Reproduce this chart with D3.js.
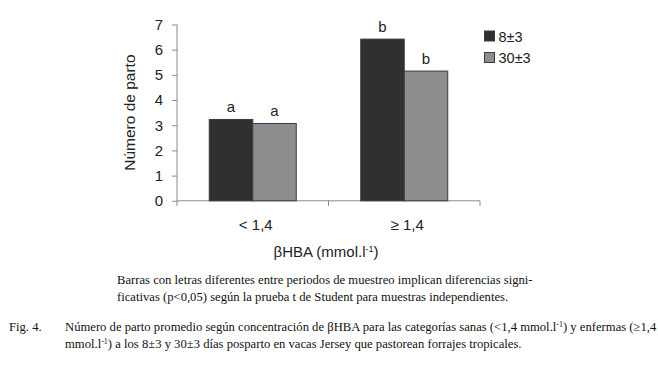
<!DOCTYPE html>
<html><head><meta charset="utf-8">
<script src="https://cdn.jsdelivr.net/npm/d3@7"></script>
<style>
body{margin:0;background:#fff;}
svg{display:block;}
</style></head>
<body>
<svg id="c" width="658" height="365"></svg>
<script>
const categories = ["< 1,4", "\u2265 1,4"];
const seriesNames = ["8\u00b13", "30\u00b13"];
const values8 = [3.23, 6.42];
const values30 = [3.07, 5.15];
const letters8 = ["a", "b"];
const letters30 = ["a", "b"];
const yTicks = [0,1,2,3,4,5,6,7];
const colors = ["#303030", "#8d8d90"];

const svg = d3.select("#c");
const L = 177, T = 24.5, W = 303, H = 176.3;
const g = svg.append("g").attr("transform", `translate(${L},${T})`);

const x0 = d3.scaleBand().domain(categories).range([0, W]).paddingInner(0).paddingOuter(0);
const x1 = d3.scaleBand().domain(seriesNames).range([0, 87]);
const y = d3.scaleLinear().domain([0, 7]).range([H, 0]);

const axisColor = "#8a8a8a";
const sans = "'Liberation Sans', Arial, sans-serif";

// y axis
const ya = g.append("g").call(d3.axisLeft(y).tickValues(yTicks).tickSize(5).tickPadding(9).tickFormat(d3.format("d")));
ya.select(".domain").attr("stroke", axisColor).attr("d", `M0,${H+5}V0`);
ya.selectAll(".tick line").attr("stroke", axisColor);
ya.selectAll("text").attr("font-family", sans).attr("font-size", 15).attr("fill", "#222");

// x axis
const xa = g.append("g").attr("transform", `translate(0,${H})`);
xa.append("path").attr("d", `M0,0H${W}`).attr("stroke", axisColor).attr("fill", "none");
const bounds = [x0.bandwidth(), W];
xa.selectAll("line.tk").data(bounds).join("line").attr("class","tk")
  .attr("x1", d => d).attr("x2", d => d).attr("y1", 0).attr("y2", 5).attr("stroke", axisColor);
xa.selectAll("text.cat").data(categories).join("text").attr("class","cat")
  .attr("x", d => x0(d) + x0.bandwidth()/2 + 3).attr("y", 29)
  .attr("text-anchor", "middle").attr("font-family", sans).attr("font-size", 15).attr("fill", "#222")
  .text(d => d);

// bars
const series = [values8, values30];
const letters = [letters8, letters30];
categories.forEach((c, i) => {
  const gx = x0(c) + (x0.bandwidth() - 87) / 2;
  seriesNames.forEach((s, j) => {
    const v = series[j][i];
    g.append("rect").attr("x", gx + x1(s)).attr("y", y(v))
      .attr("width", x1.bandwidth()).attr("height", H - y(v))
      .attr("fill", colors[j]).attr("stroke", "#3a3a3a").attr("stroke-width", 1);
    g.append("text").attr("x", gx + x1(s) + x1.bandwidth()/2).attr("y", y(v) - 7.5)
      .attr("text-anchor", "middle").attr("font-family", sans).attr("font-size", 15).attr("fill", "#222")
      .text(letters[j][i]);
  });
});

// y title
svg.append("text").attr("transform", `translate(135,${T + H/2}) rotate(-90)`)
  .attr("text-anchor", "middle").attr("font-family", sans).attr("font-size", 15.5).attr("fill", "#222")
  .text("N\u00famero de parto");

// x title
const xt = svg.append("text").attr("x", 326).attr("y", 257).attr("text-anchor", "middle")
  .attr("font-family", sans).attr("font-size", 15).attr("fill", "#222");
xt.append("tspan").text("\u03b2HBA (mmol.l");
xt.append("tspan").attr("dy", -5).attr("font-size", 9).text("-1");
xt.append("tspan").attr("dy", 5).text(")");

// legend
const lg = svg.append("g");
seriesNames.forEach((s, j) => {
  lg.append("rect").attr("x", 484.5).attr("y", 31 + j*21.5).attr("width", 10).attr("height", 10)
    .attr("fill", colors[j]).attr("stroke", "#3a3a3a");
  lg.append("text").attr("x", 498.5).attr("y", 41.5 + j*21.5).attr("font-family", sans).attr("font-size", 14.5)
    .attr("fill", "#222").text(s);
});

// captions
const serif = "'Liberation Serif', 'Times New Roman', serif";
const cap = svg.append("g").attr("font-family", serif).attr("font-size", 12.65).attr("fill", "#111");
cap.append("text").attr("x", 117).attr("y", 284).text("Barras con letras diferentes entre periodos de muestreo implican diferencias signi-");
cap.append("text").attr("x", 117).attr("y", 301).text("ficativas (p<0,05) seg\u00fan la prueba t de Student para muestras independientes.");
cap.append("text").attr("x", 9).attr("y", 331).text("Fig. 4.");
const l1 = cap.append("text").attr("x", 65).attr("y", 331);
l1.append("tspan").text("N\u00famero de parto promedio seg\u00fan concentraci\u00f3n de \u03b2HBA para las categor\u00edas sanas (<1,4 mmol.l");
l1.append("tspan").attr("dy", -4).attr("font-size", 8).text("-1");
l1.append("tspan").attr("dy", 4).text(") y enfermas (\u22651,4");
const l2 = cap.append("text").attr("x", 65).attr("y", 348);
l2.append("tspan").text("mmol.l");
l2.append("tspan").attr("dy", -4).attr("font-size", 8).text("-1");
l2.append("tspan").attr("dy", 4).text(") a los 8\u00b13 y 30\u00b13 d\u00edas posparto en vacas Jersey que pastorean forrajes tropicales.");
</script>
</body></html>
